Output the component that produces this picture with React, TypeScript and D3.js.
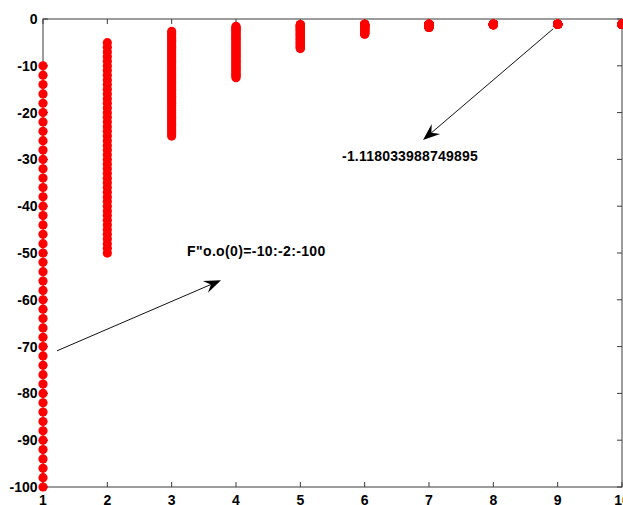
import React from "react";
import * as d3 from "d3";

// Iteration index along the x axis
const steps = [1, 2, 3, 4, 5, 6, 7, 8, 9, 10];

// Values of every starting point at each iteration
const iter1 = [-10, -12, -14, -16, -18, -20, -22, -24, -26, -28, -30, -32, -34, -36, -38, -40, -42, -44, -46, -48, -50, -52, -54, -56, -58, -60, -62, -64, -66, -68, -70, -72, -74, -76, -78, -80, -82, -84, -86, -88, -90, -92, -94, -96, -98, -100];
const iter2 = [-5.06, -6.05, -7.04, -8.04, -9.03, -10.03, -11.03, -12.03, -13.02, -14.02, -15.02, -16.02, -17.02, -18.02, -19.02, -20.02, -21.01, -22.01, -23.01, -24.01, -25.01, -26.01, -27.01, -28.01, -29.01, -30.01, -31.01, -32.01, -33.01, -34.01, -35.01, -36.01, -37.01, -38.01, -39.01, -40.01, -41.01, -42.01, -43.01, -44.01, -45.01, -46.01, -47.01, -48.01, -49.01, -50.01];
const iter3 = [-2.65, -3.13, -3.61, -4.1, -4.59, -5.08, -5.57, -6.07, -6.56, -7.06, -7.55, -8.05, -8.55, -9.04, -9.54, -10.04, -10.54, -11.04, -11.53, -12.03, -12.53, -13.03, -13.53, -14.03, -14.53, -15.03, -15.52, -16.02, -16.52, -17.02, -17.52, -18.02, -18.52, -19.02, -19.52, -20.02, -20.52, -21.02, -21.52, -22.02, -22.52, -23.02, -23.52, -24.02, -24.52, -25.02];
const iter4 = [-1.56, -1.76, -1.98, -2.2, -2.43, -2.66, -2.9, -3.14, -3.38, -3.62, -3.86, -4.1, -4.35, -4.59, -4.84, -5.08, -5.33, -5.57, -5.82, -6.07, -6.32, -6.56, -6.81, -7.06, -7.31, -7.56, -7.8, -8.05, -8.3, -8.55, -8.8, -9.04, -9.29, -9.54, -9.79, -10.04, -10.29, -10.54, -10.79, -11.04, -11.29, -11.54, -11.79, -12.04, -12.29, -12.53];
const iter5 = [-1.18, -1.24, -1.31, -1.38, -1.47, -1.57, -1.67, -1.77, -1.87, -1.98, -2.09, -2.2, -2.32, -2.43, -2.55, -2.66, -2.78, -2.9, -3.02, -3.14, -3.26, -3.38, -3.5, -3.62, -3.74, -3.86, -3.98, -4.1, -4.23, -4.35, -4.47, -4.59, -4.71, -4.84, -4.96, -5.08, -5.21, -5.33, -5.45, -5.58, -5.7, -5.82, -5.95, -6.07, -6.2, -6.32];
const iter6 = [-1.12, -1.12, -1.13, -1.14, -1.16, -1.18, -1.21, -1.24, -1.27, -1.31, -1.34, -1.39, -1.43, -1.47, -1.52, -1.57, -1.62, -1.67, -1.72, -1.77, -1.82, -1.87, -1.93, -1.98, -2.04, -2.09, -2.15, -2.2, -2.26, -2.32, -2.38, -2.43, -2.49, -2.55, -2.61, -2.66, -2.72, -2.78, -2.84, -2.9, -2.96, -3.02, -3.08, -3.14, -3.2, -3.26];
const iter7 = [-1.118, -1.118, -1.118, -1.118, -1.119, -1.12, -1.121, -1.124, -1.127, -1.132, -1.137, -1.144, -1.152, -1.161, -1.171, -1.182, -1.195, -1.208, -1.222, -1.238, -1.253, -1.271, -1.288, -1.306, -1.325, -1.345, -1.365, -1.386, -1.407, -1.429, -1.451, -1.473, -1.496, -1.519, -1.543, -1.567, -1.591, -1.616, -1.641, -1.666, -1.691, -1.717, -1.743, -1.769, -1.795, -1.82];
const iter8 = [-1.118, -1.118, -1.118, -1.118, -1.118, -1.118, -1.118, -1.118, -1.118, -1.118, -1.118, -1.118, -1.119, -1.119, -1.119, -1.12, -1.121, -1.121, -1.123, -1.124, -1.125, -1.127, -1.129, -1.132, -1.134, -1.137, -1.14, -1.144, -1.148, -1.152, -1.156, -1.161, -1.166, -1.171, -1.177, -1.182, -1.188, -1.195, -1.201, -1.208, -1.215, -1.223, -1.23, -1.238, -1.246, -1.253];
const iter9 = [-1.118, -1.118, -1.118, -1.118, -1.118, -1.118, -1.118, -1.118, -1.118, -1.118, -1.118, -1.118, -1.118, -1.118, -1.118, -1.118, -1.118, -1.118, -1.118, -1.118, -1.118, -1.118, -1.118, -1.118, -1.118, -1.118, -1.118, -1.118, -1.118, -1.119, -1.119, -1.119, -1.119, -1.119, -1.12, -1.12, -1.12, -1.121, -1.121, -1.121, -1.122, -1.123, -1.123, -1.124, -1.125, -1.125];
const iter10 = [-1.118, -1.118, -1.118, -1.118, -1.118, -1.118, -1.118, -1.118, -1.118, -1.118, -1.118, -1.118, -1.118, -1.118, -1.118, -1.118, -1.118, -1.118, -1.118, -1.118, -1.118, -1.118, -1.118, -1.118, -1.118, -1.118, -1.118, -1.118, -1.118, -1.118, -1.118, -1.118, -1.118, -1.118, -1.118, -1.118, -1.118, -1.118, -1.118, -1.118, -1.118, -1.118, -1.118, -1.118, -1.118, -1.118];

const series = [iter1, iter2, iter3, iter4, iter5, iter6, iter7, iter8, iter9, iter10];

const xTicks = [1, 2, 3, 4, 5, 6, 7, 8, 9, 10];
const yTicks = [0, -10, -20, -30, -40, -50, -60, -70, -80, -90, -100];

const startLabel = "F\"o.o(0)=-10:-2:-100";
const limitLabel = "-1.118033988749895";

const W = 623;
const H = 505;
const left = 43;
const right = 622;
const top = 19;
const bottom = 487;

const x = d3.scaleLinear().domain([1, 10]).range([left, right]);
const y = d3.scaleLinear().domain([-100, 0]).range([bottom, top]);

const font = "'Liberation Sans', Arial, sans-serif";
const axisColor = "#3a3a3a";

function Arrow({ x1, y1, x2, y2 }: { x1: number; y1: number; x2: number; y2: number }) {
  const dx = x2 - x1;
  const dy = y2 - y1;
  const len = Math.hypot(dx, dy);
  const ux = dx / len;
  const uy = dy / len;
  const px = -uy;
  const py = ux;
  const headLen = 17;
  const halfW = 6.5;
  const notch = 11;
  const bx = x2 - ux * headLen;
  const by = y2 - uy * headLen;
  const nx = x2 - ux * notch;
  const ny = y2 - uy * notch;
  const head = [
    [x2, y2],
    [bx + px * halfW, by + py * halfW],
    [nx, ny],
    [bx - px * halfW, by - py * halfW],
  ]
    .map((p) => p.join(","))
    .join(" ");
  return (
    <g>
      <line x1={x1} y1={y1} x2={nx} y2={ny} stroke="#111" strokeWidth={1} />
      <polygon points={head} fill="#000" />
    </g>
  );
}

export default function App() {
  const tick = 5;
  return (
    <svg
      width={W}
      height={H}
      style={{ position: "absolute", left: 0, top: 0, background: "#fff" }}
      fontFamily={font}
    >
      <rect x={0} y={0} width={W} height={H} fill="#fff" />

      {/* axes box */}
      <rect x={left} y={top} width={right - left} height={bottom - top} fill="none" stroke={axisColor} strokeWidth={1} />

      {/* ticks on all four sides, pointing inward */}
      {xTicks.map((t) => (
        <g key={"xt" + t}>
          <line x1={x(t)} x2={x(t)} y1={bottom} y2={bottom - tick} stroke={axisColor} />
          <line x1={x(t)} x2={x(t)} y1={top} y2={top + tick} stroke={axisColor} />
          <text
            x={x(t)}
            y={504.5}
            textAnchor="middle"
            fontSize={14}
            fontWeight="bold"
            fill="#000"
          >
            {t}
          </text>
        </g>
      ))}
      {yTicks.map((t) => (
        <g key={"yt" + t}>
          <line x1={left} x2={left + tick} y1={y(t)} y2={y(t)} stroke={axisColor} />
          <line x1={right} x2={right - tick} y1={y(t)} y2={y(t)} stroke={axisColor} />
          <text
            x={37.5}
            y={y(t)}
            dy="0.36em"
            textAnchor="end"
            fontSize={14}
            fontWeight="bold"
            fill="#000"
          >
            {t}
          </text>
        </g>
      ))}

      {/* iterates */}
      {series.map((vals, i) =>
        vals.map((v, j) => (
          <circle key={i + "-" + j} cx={x(steps[i])} cy={y(v)} r={4.6} fill="#ff0000" />
        ))
      )}

      {/* annotations */}
      <Arrow x1={x(1.218)} y1={y(-70.9)} x2={x(3.767)} y2={y(-55.8)} />
      <text x={x(3.24)} y={y(-50.6)} fontSize={14} letterSpacing={0.35} fontWeight="bold" fill="#000">
        {startLabel}
      </text>

      <Arrow x1={x(8.93)} y1={y(-2.1)} x2={x(6.907)} y2={y(-25.85)} />
      <text x={x(5.648)} y={y(-30.4)} fontSize={14} letterSpacing={0.2} fontWeight="bold" fill="#000">
        {limitLabel}
      </text>
    </svg>
  );
}
